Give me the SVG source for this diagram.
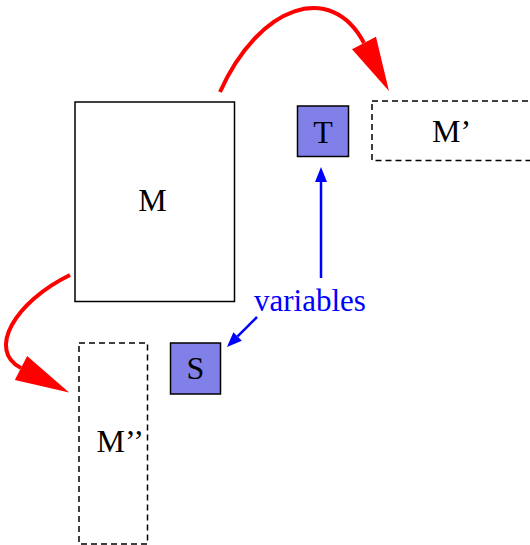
<svg xmlns="http://www.w3.org/2000/svg" width="530" height="545" viewBox="0 0 530 545">
  <style>
    .lbl { font-family: "Liberation Serif", "Times New Roman", serif; font-size: 32px; fill: #000; }
    .box { fill: #fff; stroke: #000; stroke-width: 1.5; }
    .dash { fill: none; stroke: #000; stroke-width: 1.5; stroke-dasharray: 6 4; }
    .var { fill: #8080e8; stroke: #000; stroke-width: 1.5; }
    .red { fill: none; stroke: #ff0000; stroke-width: 4; }
    .blue { fill: none; stroke: #0000ff; stroke-width: 2.5; }
  </style>
  <defs>
    <marker id="redHead" markerUnits="userSpaceOnUse" markerWidth="56" markerHeight="28" refX="0" refY="13.5" orient="auto" overflow="visible">
      <path d="M0,0 L54,13.5 L0,27 z" fill="#ff0000"/>
    </marker>
    <marker id="blueHead" markerUnits="userSpaceOnUse" markerWidth="16" markerHeight="13" refX="0" refY="6" orient="auto" overflow="visible">
      <path d="M0,0 L15,6 L0,12 z" fill="#0000ff"/>
    </marker>
  </defs>

  <g id="M">
    <rect class="box" x="75" y="102" width="159.5" height="199.5"/>
    <text class="lbl" x="152.5" y="210.5" text-anchor="middle">M</text>
  </g>
  <g id="Mprime">
    <rect class="dash" x="372" y="101" width="170" height="59.5"/>
    <text class="lbl" x="432" y="142">M’</text>
  </g>
  <g id="Mdoubleprime">
    <rect class="dash" x="79" y="343" width="68.5" height="201"/>
    <text class="lbl" x="96.5" y="452">M’’</text>
  </g>
  <g id="T">
    <rect class="var" x="297.5" y="106" width="51" height="50.5"/>
    <text class="lbl" x="323" y="143" text-anchor="middle">T</text>
  </g>
  <g id="S">
    <rect class="var" x="170.5" y="343" width="50" height="51"/>
    <text class="lbl" x="195.5" y="379" text-anchor="middle">S</text>
  </g>
  <g id="variables">
    <text x="254" y="311" font-family="'Liberation Serif', 'Times New Roman', serif" font-size="31" fill="#0000ff">variables</text>
  </g>

  <g id="connectors">
    <path class="red" d="M220,92 C259,5 331.5,-19.4 364,43" marker-end="url(#redHead)"/>
    <path class="red" d="M70,275 C14.5,302 -13.3,350.5 21,368" marker-end="url(#redHead)"/>
    <path class="blue" d="M321,278 L321,182" marker-end="url(#blueHead)"/>
    <path class="blue" d="M257,317 L237.6,336.4" marker-end="url(#blueHead)"/>
  </g>
</svg>
